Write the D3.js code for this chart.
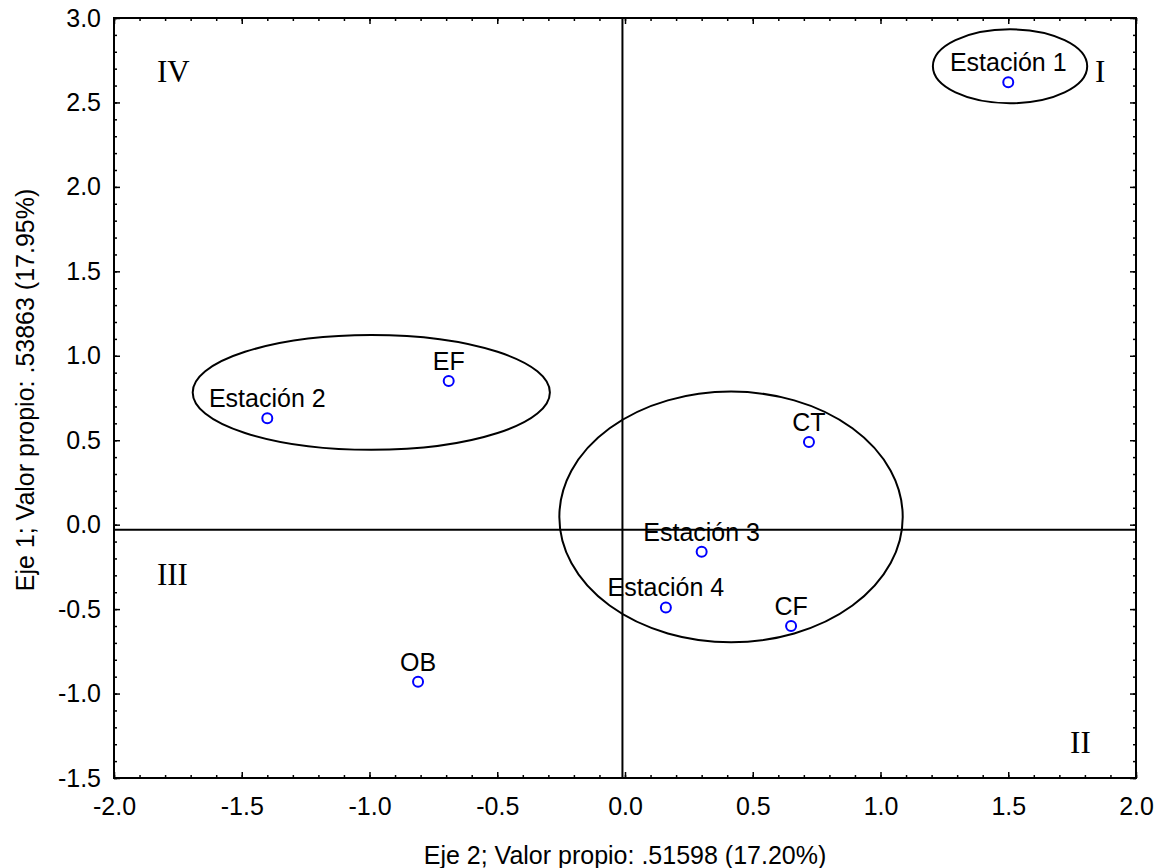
<!DOCTYPE html>
<html>
<head>
<meta charset="utf-8">
<script src="https://cdn.jsdelivr.net/npm/d3@7"></script>
<style>
  body { margin: 0; background: #fff; }
</style>
</head>
<body>
<div id="chart"></div>
<script>
// Puntos del análisis (Eje 2 horizontal, Eje 1 vertical)
const pointLabels = ['Estación 1', 'Estación 2', 'EF', 'CT', 'Estación 3', 'Estación 4', 'CF', 'OB'];
const eje2Values = [1.50, -1.40, -0.69, 0.72, 0.30, 0.16, 0.65, -0.81];
const eje1Values = [2.62, 0.63, 0.85, 0.49, -0.16, -0.49, -0.60, -0.93];

// Agrupaciones (centro x, centro y, radio x, radio y) en unidades de los ejes
const groupCx = [1.507, -0.993, 0.415];
const groupCy = [2.714, 0.783, 0.046];
const groupRx = [0.302, 0.699, 0.672];
const groupRy = [0.219, 0.340, 0.742];

// Cuadrantes
const quadrantLabels = ['I', 'II', 'III', 'IV'];
const quadrantX = [1.840, 1.742, -1.832, -1.832];
const quadrantY = [2.621, -1.35, -0.357, 2.621];

// Ejes
const xDomain = [-2.0, 2.0];
const yDomain = [-1.5, 3.0];
const xTicks = [-2.0, -1.5, -1.0, -0.5, 0.0, 0.5, 1.0, 1.5, 2.0];
const yTicks = [-1.5, -1.0, -0.5, 0.0, 0.5, 1.0, 1.5, 2.0, 2.5, 3.0];
const refX = -0.01;
const refY = -0.03;
const xTitle = 'Eje 2; Valor propio: .51598 (17.20%)';
const yTitle = 'Eje 1; Valor propio: .53863 (17.95%)';

const sans = '"Liberation Sans", Arial, sans-serif';
const serif = '"Liberation Serif", "Times New Roman", serif';

const svgWidth = 1159;
const svgHeight = 868;
const margin = { top: 18, right: 23, bottom: 90, left: 114 };
const chartWidth = svgWidth - margin.left - margin.right;
const chartHeight = svgHeight - margin.top - margin.bottom;

const svg = d3.select('#chart')
  .append('svg')
  .attr('width', svgWidth)
  .attr('height', svgHeight)
  .style('font-family', sans);

const chart = svg.append('g')
  .attr('transform', `translate(${margin.left}, ${margin.top})`);

const xScale = d3.scaleLinear().domain(xDomain).range([0, chartWidth]);
const yScale = d3.scaleLinear().domain(yDomain).range([chartHeight, 0]);

const fmt = d => d.toFixed(1);
const xMinor = d3.range(-20, 21).map(d => d / 10);
const yMinor = d3.range(-15, 31).map(d => d / 10);

// Ejes con marcas hacia dentro
const styleAxis = g => {
  g.select('.domain').remove();
  g.selectAll('line').attr('stroke', '#000').attr('stroke-width', 1.5);
  g.selectAll('text')
    .attr('font-size', 25)
    .attr('fill', '#000')
    .style('font-family', sans);
};

const addAxis = (axisFn, scale, values, size, transform, labels) => {
  const axis = axisFn(scale).tickValues(values).tickSizeInner(-size).tickSizeOuter(0);
  if (labels) axis.tickFormat(fmt); else axis.tickFormat('');
  const g = chart.append('g').attr('transform', transform).call(axis);
  styleAxis(g);
  return g;
};

// menores
addAxis(d3.axisBottom, xScale, xMinor, 3, `translate(0, ${chartHeight})`, false);
addAxis(d3.axisTop, xScale, xMinor, 3, 'translate(0, 0)', false);
addAxis(d3.axisLeft, yScale, yMinor, 3, 'translate(0, 0)', false);
addAxis(d3.axisRight, yScale, yMinor, 3, `translate(${chartWidth}, 0)`, false);

// mayores
addAxis(d3.axisBottom, xScale, xTicks, 6, `translate(0, ${chartHeight})`, true)
  .call(a => a.selectAll('.tick text').attr('y', 19));
addAxis(d3.axisTop, xScale, xTicks, 6, 'translate(0, 0)', false);
addAxis(d3.axisLeft, yScale, yTicks, 6, 'translate(0, 0)', true)
  .call(a => a.selectAll('.tick text').attr('x', -13));
addAxis(d3.axisRight, yScale, yTicks, 6, `translate(${chartWidth}, 0)`, false);

// Marco
chart.append('rect')
  .attr('x', 0).attr('y', 0)
  .attr('width', chartWidth).attr('height', chartHeight)
  .attr('fill', 'none').attr('stroke', '#000').attr('stroke-width', 2);

// Líneas de referencia
chart.append('line')
  .attr('x1', xScale(refX)).attr('x2', xScale(refX))
  .attr('y1', 0).attr('y2', chartHeight)
  .attr('stroke', '#000').attr('stroke-width', 2);
chart.append('line')
  .attr('x1', 0).attr('x2', chartWidth)
  .attr('y1', yScale(refY)).attr('y2', yScale(refY))
  .attr('stroke', '#000').attr('stroke-width', 2);

// Elipses de agrupación
chart.selectAll('ellipse')
  .data(groupCx)
  .enter()
  .append('ellipse')
  .attr('cx', d => xScale(d))
  .attr('cy', (d, i) => yScale(groupCy[i]))
  .attr('rx', (d, i) => xScale(groupRx[i]) - xScale(0))
  .attr('ry', (d, i) => yScale(0) - yScale(groupRy[i]))
  .attr('fill', 'none')
  .attr('stroke', '#000')
  .attr('stroke-width', 2);

// Puntos
chart.selectAll('circle.pt')
  .data(pointLabels)
  .enter()
  .append('circle')
  .attr('class', 'pt')
  .attr('cx', (d, i) => xScale(eje2Values[i]))
  .attr('cy', (d, i) => yScale(eje1Values[i]))
  .attr('r', 5)
  .attr('fill', 'none')
  .attr('stroke', '#0000ff')
  .attr('stroke-width', 2);

chart.selectAll('text.pt-label')
  .data(pointLabels)
  .enter()
  .append('text')
  .attr('class', 'pt-label')
  .attr('x', (d, i) => xScale(eje2Values[i]))
  .attr('y', (d, i) => yScale(eje1Values[i]) - 11)
  .attr('text-anchor', 'middle')
  .attr('font-size', 25)
  .text(d => d);

// Cuadrantes
chart.selectAll('text.quad')
  .data(quadrantLabels)
  .enter()
  .append('text')
  .attr('class', 'quad')
  .attr('x', (d, i) => xScale(quadrantX[i]))
  .attr('y', (d, i) => yScale(quadrantY[i]))
  .style('font-family', serif)
  .attr('font-size', 31)
  .text(d => d);

// Títulos
svg.append('text')
  .attr('x', margin.left + chartWidth / 2)
  .attr('y', 864)
  .attr('text-anchor', 'middle')
  .attr('font-size', 25)
  .text(xTitle);

svg.append('text')
  .attr('transform', `translate(34, ${margin.top + chartHeight / 2 - 8}) rotate(-90)`)
  .attr('text-anchor', 'middle')
  .attr('font-size', 25)
  .text(yTitle);
</script>
</body>
</html>
